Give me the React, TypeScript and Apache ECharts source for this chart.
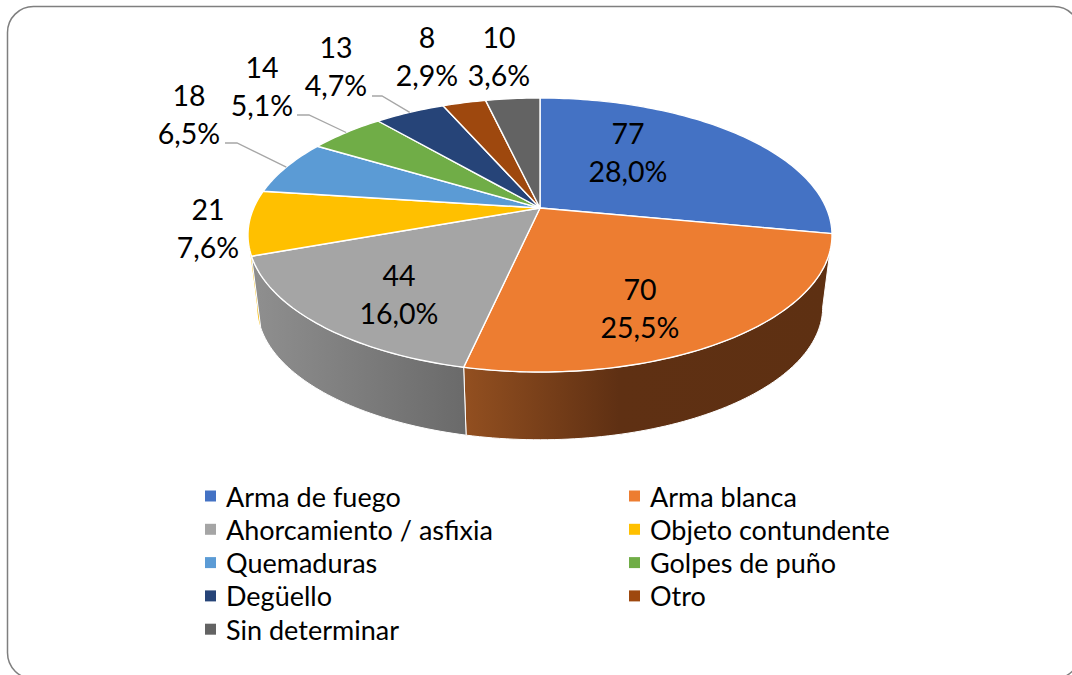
import React, { useEffect, useRef } from "react";
import * as echarts from "echarts";

const categories = ["Arma de fuego", "Arma blanca", "Ahorcamiento / asfixia", "Objeto contundente", "Quemaduras", "Golpes de puño", "Degüello", "Otro", "Sin determinar"];
const values = [77, 70, 44, 21, 18, 14, 13, 8, 10];
const palette = ["#4472c4", "#ed7d31", "#a5a5a5", "#ffc000", "#5b9bd5", "#70ad47", "#264478", "#9e480e", "#636363"];
const legendLeft = ["Arma de fuego", "Ahorcamiento / asfixia", "Quemaduras", "Degüello", "Sin determinar"];
const legendRight = ["Arma blanca", "Objeto contundente", "Golpes de puño", "Otro"];

// label centres (layout only)
const labelPos: number[][] = [[628, 152], [640, 308], [399, 294], [208, 228], [189, 114], [262, 86], [336, 66], [427, 56], [499, 56]];
const leaderFrom: (number[] | null)[] = [null, null, null, null, [225, 143, 237, 143], [297, 115, 309, 115], [372, 96, 382, 96], null, null];

const wallStops: Record<number, { x: number; x2: number; stops: [number, string][]; outline: boolean }> = {
  0: { x: 800, x2: 840, stops: [[0, "#2d4b82"], [1, "#2d4b82"]], outline: true },
  1: { x: 466, x2: 830, stops: [[0, "#924f20"], [0.42, "#5f3013"], [1, "#5e3012"]], outline: true },
  2: { x: 259, x2: 466, stops: [[0, "#8e8e8e"], [1, "#6a6a6a"]], outline: true },
  3: { x: 248, x2: 262, stops: [[0, "#ffc000"], [1, "#f0b400"]], outline: false },
};

const CX = 540;
const CY = 208;
const A = 286.3;
const B = 131.7;
const K = 0.197;
const BOTTOM_Y = 281;
const BOTTOM_F = 0.968;
const FONT = "Lato";
const LABEL_FS = 28.5;
const LEGEND_FS = 27;
// the rim's left and right silhouette points of the projected disc
const FRONT_START = Math.acos(-K);
const FRONT_END = Math.PI * 2 - FRONT_START;

const total = values.reduce((a, b) => a + b, 0);
const starts: number[] = [];
values.reduce((acc, v, i) => {
  starts[i] = acc;
  return acc + v;
}, 0);

function top(theta: number): number[] {
  const X = Math.sin(theta);
  const Y = Math.cos(theta);
  const d = 1 + K * Y;
  return [CX + (A * X) / d, CY - (B * Y) / d];
}
function bottom(theta: number): number[] {
  const X = Math.sin(theta);
  const Y = Math.cos(theta);
  const d = 1 + K * Y;
  return [CX + (BOTTOM_F * A * X) / d, BOTTOM_Y - (BOTTOM_F * B * Y) / d];
}
function arc(fn: (t: number) => number[], t0: number, t1: number): number[][] {
  const n = Math.max(2, Math.ceil(Math.abs(t1 - t0) / 0.02));
  const pts: number[][] = [];
  for (let i = 0; i <= n; i++) pts.push(fn(t0 + ((t1 - t0) * i) / n));
  return pts;
}

function makeRender(idx: number) {
  return (_params: any, api: any) => {
    const v = api.value(0);
    const t0 = (starts[idx] / total) * Math.PI * 2;
    const t1 = ((starts[idx] + v) / total) * Math.PI * 2;
    const children: any[] = [];
    const f0 = Math.max(t0, FRONT_START);
    const f1 = Math.min(t1, FRONT_END);
    const g = wallStops[idx];
    if (f1 > f0 && g) {
      children.push({
        type: "polygon",
        z2: idx === 3 ? 1 : idx === 0 ? 2 : 5,
        silent: true,
        shape: { points: [...arc(top, f0, f1), ...arc(bottom, f1, f0)] },
        style: {
          fill: {
            type: "linear", x: g.x, y: 0, x2: g.x2, y2: 0, global: true,
            colorStops: g.stops.map(([offset, color]) => ({ offset, color })),
          },
          stroke: g.outline ? "#ffffff" : "none",
          lineWidth: 1,
        },
      });
    }
    children.push({
      type: "polygon",
      z2: 20,
      shape: { points: [[CX, CY], ...arc(top, t0, t1)] },
      style: { fill: palette[idx], stroke: "#ffffff", lineWidth: 1.4, lineJoin: "round" },
    });
    const lf = leaderFrom[idx];
    if (lf) {
      const mid = top((t0 + t1) / 2);
      children.push({
        type: "polyline",
        z2: 30,
        silent: true,
        shape: { points: [[lf[0], lf[1]], [lf[2], lf[3]], mid] },
        style: { fill: "none", stroke: "#a6a6a6", lineWidth: 1.3 },
      });
    }
    const pct = ((v / total) * 100).toFixed(1).replace(".", ",");
    children.push({
      type: "text",
      z2: 40,
      silent: true,
      style: {
        x: labelPos[idx][0],
        y: labelPos[idx][1],
        text: `${v}\n${pct}%`,
        fill: "#000000",
        font: `${LABEL_FS}px ${FONT}`,
        lineHeight: 38.5,
        align: "center",
        verticalAlign: "middle",
      },
    });
    return { type: "group", children };
  };
}

function legend(names: string[], left: number) {
  return {
    data: names,
    orient: "vertical" as const,
    left,
    top: 477,
    itemWidth: 11,
    itemHeight: 11,
    itemGap: 5.3,
    icon: "rect",
    selectedMode: false,
    textStyle: { fontFamily: FONT, fontSize: LEGEND_FS, color: "#000000", lineHeight: 28, padding: [0, 0, 0, 5] },
  };
}

export default function App() {
  const ref = useRef<HTMLDivElement>(null);
  useEffect(() => {
    document.body.style.margin = "0";
    const chart = echarts.init(ref.current!, null, { renderer: "svg" });
    chart.setOption({
      animation: false,
      backgroundColor: "#ffffff",
      color: palette,
      tooltip: { show: false },
      legend: [legend(legendLeft, 200), legend(legendRight, 624)],
      graphic: [
        {
          type: "rect",
          z: -1,
          silent: true,
          shape: { x: 7.5, y: 6.5, width: 1072.5, height: 672.3, r: 26 },
          style: { fill: "#ffffff", stroke: "#7f7f7f", lineWidth: 1.5 },
        },
      ],
      series: categories.map((name, i) => ({
        type: "custom",
        name,
        coordinateSystem: "none",
        data: [[values[i]]],
        renderItem: makeRender(i),
      })),
    });
    return () => chart.dispose();
  }, []);
  return <div ref={ref} style={{ position: "absolute", left: 0, top: 0, width: 1072, height: 675, overflow: "hidden" }} />;
}
